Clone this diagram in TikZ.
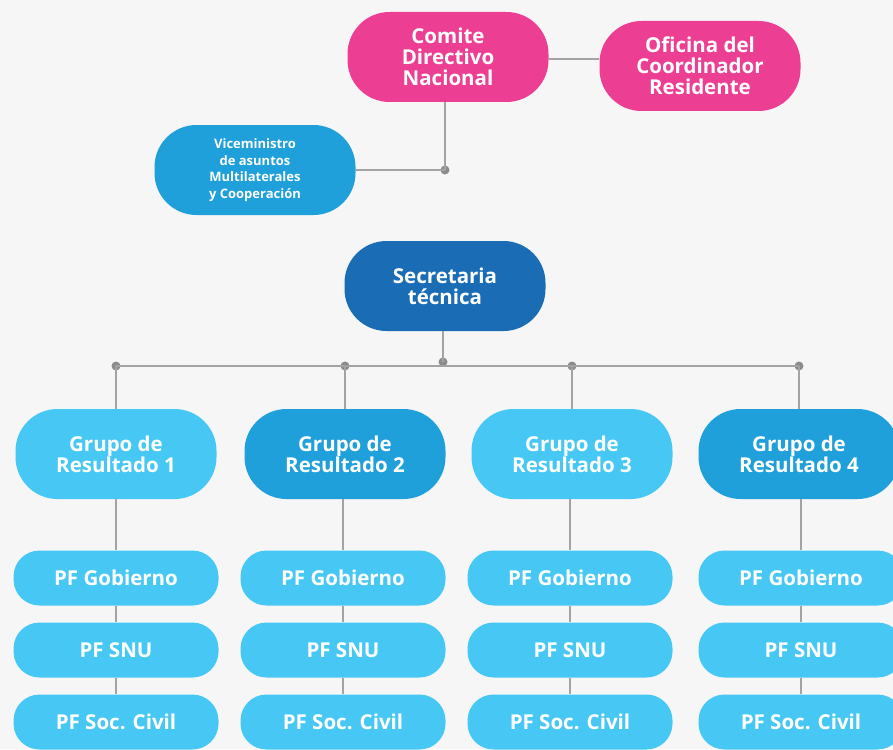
\documentclass[tikz,border=0pt]{standalone}
\usepackage{fontspec}
\setmainfont{Open Sans}
\definecolor{bgc}{HTML}{F6F6F6}
\definecolor{pinkc}{HTML}{EC3F94}
\definecolor{midblue}{HTML}{1FA0DA}
\definecolor{lightblue}{HTML}{47C8F4}
\definecolor{darkblue}{HTML}{1A6DB5}
\definecolor{linec}{HTML}{A3A3A3}
\definecolor{dotc}{HTML}{8C8C8C}
\begin{document}
\begin{tikzpicture}[x=1pt,y=-1pt,
  big/.style={minimum width=201pt,minimum height=90pt,inner sep=0pt,rounded corners=42pt,align=center,text=white,font=\fontsize{20.5}{21}\selectfont\bfseries},
  pfbox/.style={minimum width=205pt,minimum height=55pt,inner sep=0pt,rounded corners=26pt,align=center,text=white,fill=lightblue,font=\fontsize{20.5}{21}\selectfont\bfseries},
  conn/.style={draw=linec,line width=2pt},
  dotn/.style={circle,fill=dotc,minimum size=9pt,inner sep=0pt}]
\useasboundingbox[fill=bgc] (0,0) rectangle (893,749);
% top
\node[big,fill=pinkc] (cdn) at (448,57) {Comite\\Directivo\\Nacional};
\node[big,fill=pinkc] (ocr) at (700,66) {Oficina del\\Coordinador\\Residente};
\node[big,fill=midblue,font=\fontsize{13}{16.5}\selectfont\bfseries] (vice) at (255,170) {Viceministro\\de asuntos\\Multilaterales\\y Cooperación};
\node[big,fill=darkblue] (sec) at (445,286) {Secretaria\\técnica};
\node[dotn] (d0) at (445,170) {};
\draw[conn] (cdn.east |- 0,59) -- (ocr.west |- 0,59);
\draw[conn] (cdn.south -| d0) -- (d0.center);
\draw[conn] (vice.east) -- (d0.center);
% groups
\node[dotn] (dc) at (443,362) {};
\draw[conn] (sec.south -| dc) -- (dc.center);
\foreach \i/\x/\c in {1/116/lightblue,2/345/midblue,3/572/lightblue,4/799/midblue}{
  \node[dotn] (dg\i) at (\x,366) {};
  \node[big,fill=\c] (g\i) at (\x,454) {Grupo de\\Resultado \i};
}
\draw[conn] (dg1.center) -- (dg4.center);
\foreach \i in {1,...,4}{ \draw[conn] (dg\i.center) -- (g\i.north -| dg\i); }
\foreach \i/\x in {1/116,2/343,3/570,4/801}{
  \node[pfbox] (pa\i) at (\x,578) {PF Gobierno};
  \node[pfbox] (pb\i) at (\x,650) {PF SNU};
  \node[pfbox] (pc\i) at (\x,722) {PF Soc. Civil};
  \draw[conn] (g\i.south -| pa\i) -- (pa\i.north);
  \draw[conn] (pa\i.south) -- (pb\i.north);
  \draw[conn] (pb\i.south) -- (pc\i.north);
}
\end{tikzpicture}
\end{document}
